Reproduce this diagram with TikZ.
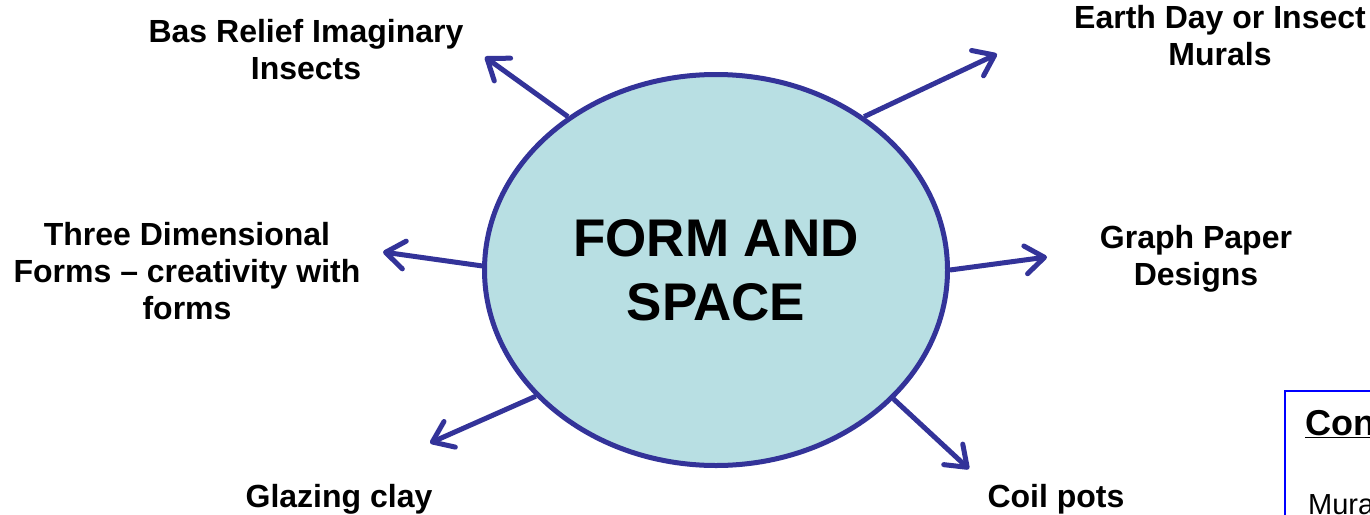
\documentclass[tikz,border=0pt]{standalone}
\usepackage{fontspec}
\setmainfont{Liberation Sans}
\usetikzlibrary{shapes.geometric,arrows.meta}
\definecolor{ringblue}{HTML}{333399}
\definecolor{ringfill}{HTML}{B8DFE3}
\definecolor{boxblue}{HTML}{0000FF}
\tikzset{
  lbl/.style={anchor=base,align=center,inner sep=0pt,font=\fontsize{32}{37}\selectfont\bfseries},
  spoke/.style={draw=ringblue,line width=5pt,-{Straight Barb[length=19pt,width=28pt,round]}},
  hub/.style={ellipse,draw=ringblue,fill=ringfill,line width=5pt,minimum width=463pt,minimum height=391pt,inner sep=0pt,align=center,font=\fontsize{53}{64}\selectfont\bfseries}
}
\begin{document}
\begin{tikzpicture}[x=1pt,y=-1pt]
\useasboundingbox (0,0) rectangle (1370,514);
\clip (0,0) rectangle (1370,514);
\node[hub] (c) at (716,270) {FORM AND\\SPACE};
\coordinate (t1) at (485,57);
\coordinate (t2) at (997,54);
\coordinate (t3) at (383,252);
\coordinate (t4) at (1047,257);
\coordinate (t5) at (430,443);
\coordinate (t6) at (969,469);
\draw[spoke] (c.134.6) -- (t1);
\draw[spoke] (c.46.1) -- (t2);
\draw[spoke] (c.179.5) -- (t3);
\draw[spoke] (c.0) -- (t4);
\draw[spoke] (c.215.5) -- (t5);
\draw[spoke] (c.324.3) -- (t6);
\node[lbl] (l1) at (306,79) {Bas Relief Imaginary\\Insects};
\node[lbl] (l2) at (1220,65) {Earth Day or Insect\\Murals};
\node[lbl] (l3) at (187,319) {Three Dimensional\\Forms -- creativity with\\forms};
\node[lbl] (l4) at (1196,285) {Graph Paper\\Designs};
\node[lbl] (l5) at (339,507) {Glazing clay};
\node[lbl] (l6) at (1056,507) {Coil pots};
\draw[boxblue,line width=2pt] (1285,391) rectangle (1400,540);
\node[anchor=base west,inner sep=0pt,font=\fontsize{36}{40}\selectfont\bfseries] (h) at (1305,435) {\underline{Con}};
\node[anchor=base west,inner sep=0pt,font=\fontsize{29}{33}\selectfont] (m) at (1308,514) {Mura};
\end{tikzpicture}
\end{document}
